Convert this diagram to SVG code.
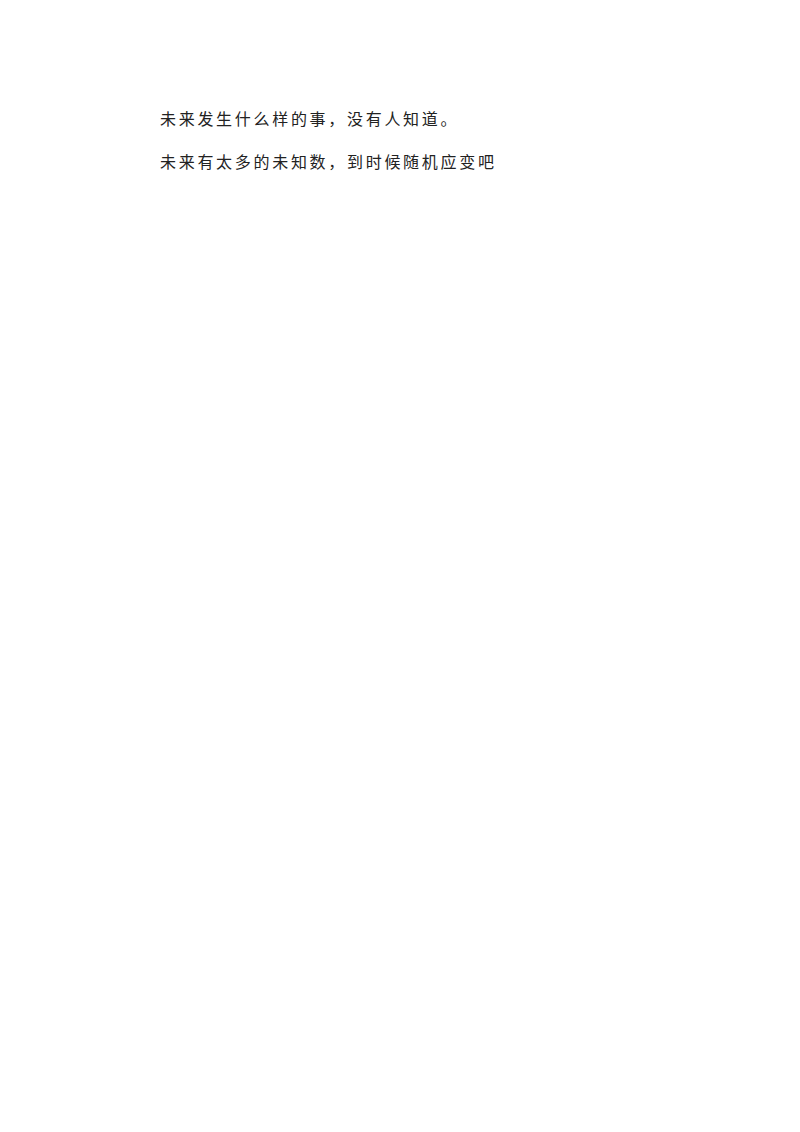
<svg xmlns="http://www.w3.org/2000/svg" width="800" height="1132" viewBox="0 0 800 1132"><style>text{font-family:"Noto Sans CJK SC",sans-serif;font-size:16px;letter-spacing:2.7px;fill:#222}</style><rect width="800" height="1132" fill="#fff"/><text x="160" y="125">未来发生什么样的事，没有人知道。</text><text x="160" y="168">未来有太多的未知数，到时候随机应变吧</text></svg>
